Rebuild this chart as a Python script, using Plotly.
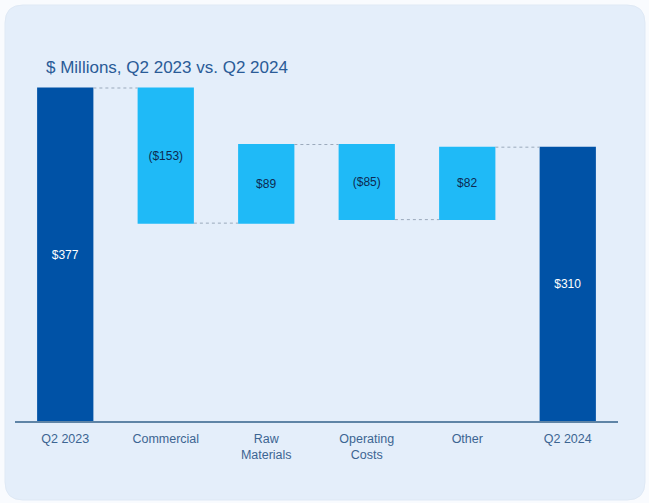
import plotly.graph_objects as go

# Bridge from Q2 2023 to Q2 2024 ($ millions)
categories = ["Q2 2023", "Commercial", "Raw<br>Materials", "Operating<br>Costs", "Other", "Q2 2024"]
values = [377, -153, 89, -85, 82, 310]
measures = ["absolute", "relative", "relative", "relative", "relative", "total"]
labels = ["$377", "($153)", "$89", "($85)", "$82", "$310"]

W, H = 649, 503
ML, MR, MT, MB = 15, 31, 80, 82
PW, PH = W - ML - MR, H - MT - MB

DARK = "#0052a6"
LIGHT = "#1fbaf7"
FONT = "Liberation Sans, Arial, sans-serif"

text_colors = ["white" if m != "relative" else "#0d2a52" for m in measures]

fig = go.Figure(go.Waterfall(
    x=categories,
    y=values,
    measure=measures,
    text=labels,
    textposition="inside",
    insidetextanchor="middle",
    textfont=dict(family=FONT, size=12, color=text_colors),
    increasing=dict(marker=dict(color=LIGHT)),
    decreasing=dict(marker=dict(color=LIGHT)),
    totals=dict(marker=dict(color=DARK)),
    connector=dict(line=dict(color="#9aa9bb", width=1, dash="dot")),
    width=0.56,
    hoverinfo="skip",
))


def px_x(p):
    return (p - ML) / PW


def px_y(p):
    return (H - MB - p) / PH


# rounded background panel
x0, x1, y0, y1, r = 5, 645, 5, 500, 18
path = (
    f"M {px_x(x0 + r)} {px_y(y0)} L {px_x(x1 - r)} {px_y(y0)} "
    f"Q {px_x(x1)} {px_y(y0)} {px_x(x1)} {px_y(y0 + r)} "
    f"L {px_x(x1)} {px_y(y1 - r)} "
    f"Q {px_x(x1)} {px_y(y1)} {px_x(x1 - r)} {px_y(y1)} "
    f"L {px_x(x0 + r)} {px_y(y1)} "
    f"Q {px_x(x0)} {px_y(y1)} {px_x(x0)} {px_y(y1 - r)} "
    f"L {px_x(x0)} {px_y(y0 + r)} "
    f"Q {px_x(x0)} {px_y(y0)} {px_x(x0 + r)} {px_y(y0)} Z"
)
fig.add_shape(type="path", path=path, xref="paper", yref="paper",
              fillcolor="#e4eefa", line=dict(color="#dfe9f5", width=1), layer="below")

fig.add_annotation(
    text="$ Millions, Q2 2023 vs. Q2 2024",
    xref="paper", yref="paper", x=px_x(44), y=px_y(67),
    xanchor="left", yanchor="middle", showarrow=False,
    font=dict(family=FONT, size=17, color="#2a5b97"),
)

fig.update_layout(
    width=W, height=H,
    margin=dict(l=ML, r=MR, t=MT, b=MB),
    paper_bgcolor="#f9fbfe",
    plot_bgcolor="rgba(0,0,0,0)",
    showlegend=False,
    xaxis=dict(
        showgrid=False, showline=True, linecolor="#5f84a6", linewidth=2,
        ticks="", tickfont=dict(family=FONT, size=12.5, color="#3c6592"),
        ticklabelstandoff=5,
        range=[-0.5, 5.5],
    ),
    yaxis=dict(
        range=[0, PH / (333 / 377)], showgrid=False, showticklabels=False,
        zeroline=False, showline=False,
    ),
)

fig.write_html("out.html")
